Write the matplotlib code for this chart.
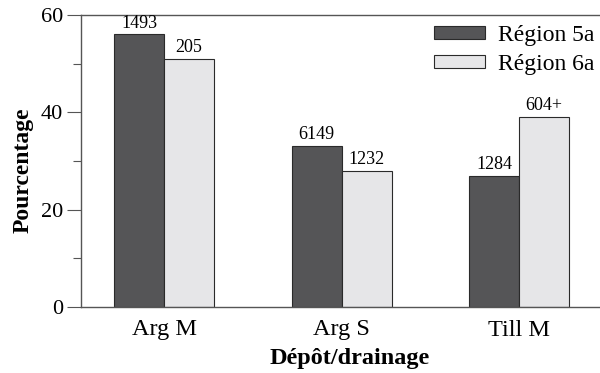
import matplotlib
matplotlib.use("Agg")
import matplotlib.pyplot as plt
import numpy as np
from matplotlib.ticker import MultipleLocator

categories = ["Arg M", "Arg S", "Till M"]
series_names = ["Région 5a", "Région 6a"]
region5a = [56, 33, 27]
region6a = [51, 28, 39]
labels5a = ["1493", "6149", "1284"]
labels6a = ["205", "1232", "604+"]

plt.rcParams['font.family'] = ['Liberation Serif', 'DejaVu Serif']

fig = plt.figure(figsize=(6.0, 3.73), dpi=100)
ax = fig.add_axes([81/600, 1-307/373, (600-81)/600, (307-15)/373])

x = np.arange(len(categories))
w = 0.282
b1 = ax.bar(x - w/2, region5a, w, color="#555557", edgecolor="#2a2a2a", linewidth=0.8, label=series_names[0])
b2 = ax.bar(x + w/2, region6a, w, color="#e6e6e8", edgecolor="#2a2a2a", linewidth=0.8, label=series_names[1])

for rect, lab in zip(b1, labels5a):
    ax.text(rect.get_x() + rect.get_width()/2, rect.get_height() + 0.6, lab,
            ha="center", va="bottom", fontsize=13)
for rect, lab in zip(b2, labels6a):
    ax.text(rect.get_x() + rect.get_width()/2, rect.get_height() + 0.6, lab,
            ha="center", va="bottom", fontsize=13)

ax.set_xlim(-0.468, 2.456)
ax.set_ylim(0, 60)
ax.yaxis.set_major_locator(MultipleLocator(20))
ax.yaxis.set_minor_locator(MultipleLocator(10))
ax.set_xticks(x)
ax.set_xticklabels(categories, fontsize=17.5)
ax.tick_params(axis='y', which='major', length=10, width=0.8, labelsize=16, color="#555555", pad=3)
ax.tick_params(axis='y', which='minor', length=6, width=0.8, color="#555555")
ax.tick_params(axis='x', length=0, pad=9)

for s in ['left', 'top', 'bottom']:
    ax.spines[s].set_color("#555555")
    ax.spines[s].set_linewidth(1.0)
ax.spines['right'].set_visible(False)

ax.set_ylabel("Pourcentage", fontsize=17, fontweight='bold')
ax.yaxis.set_label_coords(-0.092, 0.47)
ax.set_xlabel("Dépôt/drainage", fontsize=17.5, fontweight='bold')
ax.xaxis.set_label_coords(0.517, -0.14)

leg = ax.legend(loc="upper right", bbox_to_anchor=(1.0, 0.985), frameon=False, fontsize=17,
                handlelength=2.15, handleheight=0.47, handletextpad=0.55, labelspacing=0.32,
                borderaxespad=0.0, borderpad=0.25)

fig.savefig("out.png", dpi=100)
